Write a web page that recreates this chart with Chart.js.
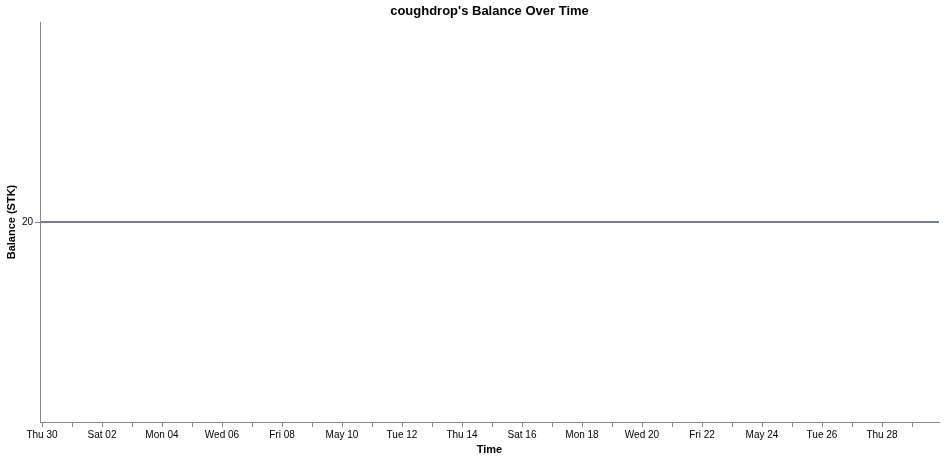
<!DOCTYPE html>
<html>
<head>
<meta charset="utf-8">
<script src="https://cdn.jsdelivr.net/npm/chart.js@4"></script>
<style>
  html, body { margin: 0; padding: 0; background: #fff; }
  #wrap { width: 946px; height: 459px; }
</style>
</head>
<body>
<div id="wrap"><canvas id="balanceChart"></canvas></div>
<script>
// balance samples (STK) - flat at 20 for the whole period
let sampleTimes = ['2020-04-29T22:24:00Z', '2020-05-07T00:00:00Z', '2020-05-15T00:00:00Z', '2020-05-22T00:00:00Z', '2020-05-29T21:36:00Z'];
let balances = [20, 20, 20, 20, 20];
let yTicks = [20];
let chartTitle = "coughdrop's Balance Over Time";

// x is in days since Thu Apr 30 2020
let dayZero = Date.UTC(2020, 3, 30);
let dayMs = 86400000;
let tickDays = [];
for (let d = 0; d <= 29; d++) tickDays.push(d);

let weekdays = ['Sun', 'Mon', 'Tue', 'Wed', 'Thu', 'Fri', 'Sat'];
let months = ['January', 'February', 'March', 'April', 'May', 'June', 'July', 'August', 'September', 'October', 'November', 'December'];

function dayLabel(v)
{
    let d = Math.round(v);
    if (d % 2 !== 0) return '';
    let dt = new Date(dayZero + d * dayMs);
    let dd = String(dt.getUTCDate()).padStart(2, '0');
    if (dt.getUTCDate() === 1) return months[dt.getUTCMonth()];
    if (dt.getUTCDay() === 0) return months[dt.getUTCMonth()].slice(0, 3) + ' ' + dd;
    return weekdays[dt.getUTCDay()] + ' ' + dd;
}

let points = sampleTimes.map((t, i) => ({ x: (Date.parse(t) - dayZero) / dayMs, y: balances[i] }));
let xMin = points[0].x;
let xMax = points[points.length - 1].x;

let font = "'Liberation Sans', Arial, sans-serif";
let axisGrey = '#888888';

// title centred over the plot area, not the whole canvas
let plotTitle =
{
    id: 'plotTitle',
    afterDraw: function(chart)
    {
        let c = chart.ctx;
        let area = chart.chartArea;
        c.save();
        c.font = 'bold 13px ' + font;
        c.fillStyle = '#000';
        c.textAlign = 'center';
        c.textBaseline = 'middle';
        c.fillText(chartTitle, (area.left + area.right) / 2, 11);
        c.restore();
    }
};

let ctx = document.getElementById('balanceChart').getContext('2d');

let myChart = new Chart(ctx,
{
    type: 'line',
    data:
    {
        datasets:
        [{
            label: 'Balance',
            data: points,
            borderColor: '#747f92',
            borderWidth: 2,
            pointRadius: 0,
            fill: false,
            tension: 0
        }]
    },
    plugins: [plotTitle],
    options:
    {
        responsive: true,
        maintainAspectRatio: false,
        animation: false,
        layout: { padding: { left: 0, right: 7, top: 22, bottom: 0 } },
        plugins:
        {
            legend: { display: false },
            tooltip: { enabled: false },
            title: { display: false }
        },
        scales:
        {
            x:
            {
                type: 'linear',
                min: xMin,
                max: xMax,
                afterBuildTicks: function(axis) { axis.ticks = tickDays.map(v => ({ value: v })); },
                afterFit: function(axis) { axis.height = 37; axis.paddingLeft = 0; axis.paddingRight = 0; },
                ticks:
                {
                    autoSkip: false,
                    maxRotation: 0,
                    padding: 2,
                    color: '#000',
                    font: { family: font, size: 10 },
                    callback: function(v) { return dayLabel(v); }
                },
                grid: { drawOnChartArea: false, tickLength: 5, color: axisGrey },
                border: { color: axisGrey },
                title:
                {
                    display: true,
                    text: 'Time',
                    color: '#000',
                    font: { family: font, size: 11, weight: 'bold' },
                    padding: { top: 0, bottom: 2 }
                }
            },
            y:
            {
                min: 19,
                max: 21,
                afterBuildTicks: function(axis) { axis.ticks = yTicks.map(v => ({ value: v })); },
                afterFit: function(axis) { axis.width = 40; axis.paddingTop = 0; axis.paddingBottom = 0; },
                ticks:
                {
                    padding: 2,
                    color: '#000',
                    font: { family: font, size: 10 }
                },
                grid: { drawOnChartArea: false, tickLength: 5, color: axisGrey },
                border: { color: axisGrey },
                title:
                {
                    display: true,
                    text: 'Balance (STK)',
                    color: '#000',
                    font: { family: font, size: 11, weight: 'bold' },
                    padding: { top: 5, bottom: 0 }
                }
            }
        }
    }
});
</script>
</body>
</html>
